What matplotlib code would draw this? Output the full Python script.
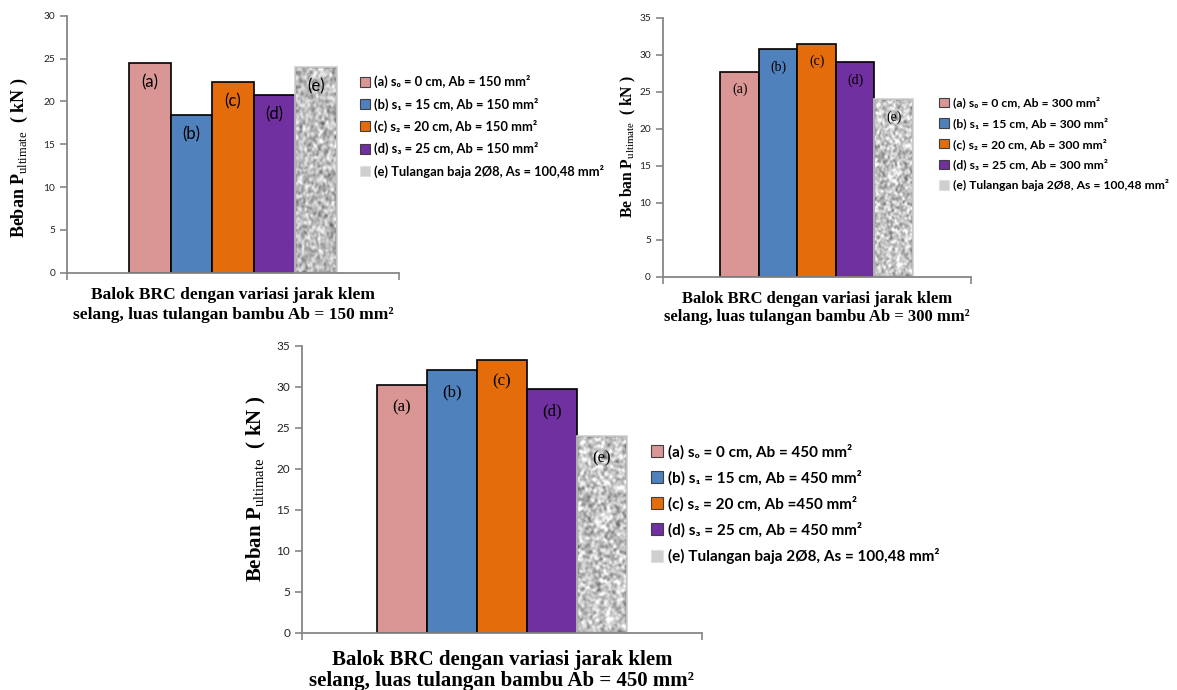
import numpy as np
import matplotlib.pyplot as plt
from matplotlib.patches import Patch

plt.rcParams['mathtext.fontset'] = 'custom'
plt.rcParams['mathtext.rm'] = 'Liberation Serif'
plt.rcParams['mathtext.bf'] = 'Liberation Serif:bold'
plt.rcParams['font.family'] = ['Lato', 'DejaVu Sans']

bar_names = ['(a)', '(b)', '(c)', '(d)', '(e)']
bar_colors = ['#D99694', '#4F81BD', '#E46C0A', '#7030A0', '#BFBFBF']

load_150 = [24.5, 18.4, 22.3, 20.7, 24.0]
load_300 = [27.7, 30.7, 31.5, 29.0, 24.0]
load_450 = [30.2, 32.0, 33.3, 29.7, 24.0]

legend_150 = ['(a) s₀ = 0 cm, Ab = 150 mm²', '(b) s₁ = 15 cm, Ab = 150 mm²',
              '(c) s₂ = 20 cm, Ab = 150 mm²', '(d) s₃ = 25 cm, Ab = 150 mm²',
              '(e) Tulangan baja 2Ø8, As = 100,48 mm²']
legend_300 = ['(a) s₀ = 0 cm, Ab = 300 mm²', '(b) s₁ = 15 cm, Ab = 300 mm²',
              '(c) s₂ = 20 cm, Ab = 300 mm²', '(d) s₃ = 25 cm, Ab = 300 mm²',
              '(e) Tulangan baja 2Ø8, As = 100,48 mm²']
legend_450 = ['(a) s₀ = 0 cm, Ab = 450 mm²', '(b) s₁ = 15 cm, Ab = 450 mm²',
              '(c) s₂ = 20 cm, Ab =450 mm²', '(d) s₃ = 25 cm, Ab = 450 mm²',
              '(e) Tulangan baja 2Ø8, As = 100,48 mm²']

xlabel_150 = 'Balok BRC dengan variasi jarak klem\nselang, luas tulangan bambu Ab = 150 mm²'
xlabel_300 = 'Balok BRC dengan variasi jarak klem\nselang, luas tulangan bambu Ab = 300 mm²'
xlabel_450 = 'Balok BRC dengan variasi jarak klem\nselang, luas tulangan bambu Ab = 450 mm²'


def granite(h, w, seed):
    # speckled grey texture for the steel bar (decoration only)
    yy, xx = np.mgrid[0:h, 0:w]
    v = np.sin(xx * 12.9898 + yy * 78.233 + seed) * 43758.5453
    v = v - np.floor(v)
    k = np.ones(3) / 3
    for _ in range(2):
        v = np.apply_along_axis(lambda r: np.convolve(r, k, mode='same'), 1, v)
        v = np.apply_along_axis(lambda c: np.convolve(c, k, mode='same'), 0, v)
    v = (v - v.min()) / (v.max() - v.min())
    return np.clip(0.2 + 0.95 * v, 0, 1)


def draw(rect, values, ymax, legend_labels, leg_pos, xlabel, ylabel,
         name_font, name_size, tick_size, lab_size, ylab_size, leg_size,
         leg_space, name_off, ylab_xy, xlab_y, lab_space):
    ax = fig.add_axes(rect)
    width = 0.125
    xs = [0.5 + width * (i - 2) for i in range(len(values))]
    bars = ax.bar(xs, values, width=width, color=bar_colors, edgecolor='black', linewidth=1.2, zorder=2)
    # textured fill on the steel bar
    steel = bars[-1]
    steel.set_facecolor('none')
    steel.set_edgecolor('#D0D0D0')
    img = ax.imshow(granite(220, 60, len(values) * ymax), cmap='gray', vmin=0, vmax=1,
                    extent=(xs[-1] - width / 2, xs[-1] + width / 2, 0, values[-1]),
                    aspect='auto', interpolation='bilinear', zorder=1.5)
    img.set_clip_path(steel)
    for x, v, n in zip(xs, values, bar_names):
        ax.annotate(n, (x, v), xytext=(0, name_off), textcoords='offset points',
                    ha='center', va='center', fontsize=name_size, family=name_font, zorder=3)
    ax.set_xlim(0, 1)
    ax.set_ylim(0, ymax)
    ax.set_xticks([0, 1])
    ax.set_xticklabels([])
    ax.set_yticks(range(0, ymax + 1, 5))
    for s in ['top', 'right']:
        ax.spines[s].set_visible(False)
    for s in ['left', 'bottom']:
        ax.spines[s].set_color('#868686')
        ax.spines[s].set_linewidth(1.3)
    ax.tick_params(axis='both', colors='#868686', length=5, width=1.2, labelcolor='#222222',
                   labelsize=tick_size)
    ax.set_xlabel(xlabel, family='Liberation Serif', weight='bold', fontsize=lab_size,
                  linespacing=lab_space, va='top')
    ax.xaxis.set_label_coords(0.5, xlab_y)
    ax.set_ylabel(ylabel, family='Liberation Serif', weight='bold', fontsize=ylab_size,
                  va='center')
    ax.yaxis.set_label_coords(*ylab_xy)
    handles = [Patch(facecolor=c, edgecolor='#404040', linewidth=0.8) for c in bar_colors[:4]]
    handles.append(Patch(facecolor='#CFCFCF', edgecolor='#E0E0E0', linewidth=0.8))
    fig.legend(handles, legend_labels, loc='center left', bbox_to_anchor=leg_pos,
               frameon=False, borderpad=0, borderaxespad=0, handlelength=0.8,
               handleheight=0.8, handletextpad=0.3, labelspacing=leg_space,
               prop={'family': ['Lato', 'DejaVu Sans'], 'weight': 'bold', 'size': leg_size})
    return ax


fig = plt.figure(figsize=(11.77, 6.9), dpi=100)

draw([0.0569, 0.6048, 0.2821, 0.3725], load_150, 30, legend_150, (0.306, 0.8167),
     xlabel_150, r'Beban $\mathbf{P}_{\mathrm{ultimate}}$  ( kN )',
     'Lato', 12, 7.3, 12.5, 13, 9.3, 0.72, -14, (-0.142, 0.446), -0.056, 1.35)
draw([0.563, 0.599, 0.2617, 0.3754], load_300, 35, legend_300, (0.798, 0.7913),
     xlabel_300, r'Be ban $\mathbf{P}_{\mathrm{ultimate}}$  ( kN )',
     'Liberation Serif', 10, 7.3, 12, 11.2, 8.7, 0.73, -13, (-0.112, 0.5), -0.055, 1.2)
draw([0.2566, 0.083, 0.3398, 0.416], load_450, 35, legend_450, (0.553, 0.2696),
     xlabel_450, r'Beban $\mathbf{P}_{\mathrm{ultimate}}$  ( kN )',
     'Liberation Serif', 12, 8.5, 15, 15, 11, 0.7, -16, (-0.115, 0.5), -0.059, 1.06)

fig.savefig('out.png', dpi=100)
